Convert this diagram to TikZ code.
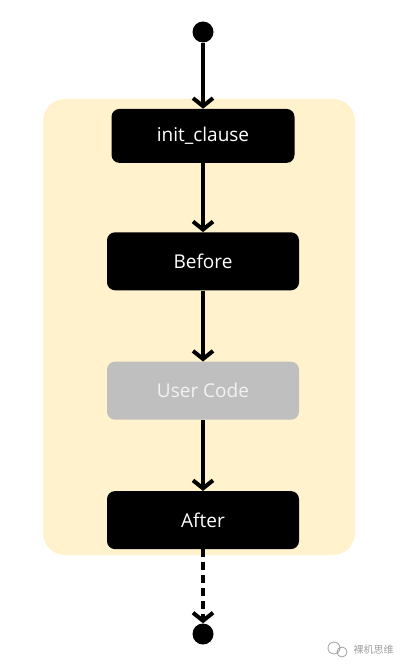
\documentclass[tikz,border=0pt]{standalone}
\usepackage{fontspec}
\setmainfont{Open Sans}
\newfontfamily\cjk{Noto Sans CJK SC}
\usetikzlibrary{arrows.meta, positioning, backgrounds}
\definecolor{PanelYellow}{HTML}{FFF2CC}
\definecolor{CodeGray}{HTML}{BFBFBF}
\definecolor{CodeText}{HTML}{F2F2F2}
\definecolor{MarkGray}{HTML}{A0A0A0}

\begin{document}
\begin{tikzpicture}[x=1pt,y=1pt,
			every node/.style={font=\fontsize{19}{23}\selectfont},
			phase/.style={rectangle,rounded corners=8pt,fill=black,text=white,minimum width=192pt,minimum height=58pt,inner sep=0pt},
			usercode/.style={phase,fill=CodeGray,text=CodeText},
			state/.style={circle,fill=black,minimum size=21pt,inner sep=0pt},
			flow/.style={line width=4pt,-{Straight Barb[length=8pt,width=20pt]}},
			panel/.style={rectangle,rounded corners=22pt,fill=PanelYellow,minimum width=312pt,minimum height=456pt,inner sep=0pt}
		]
		\useasboundingbox (0,0) rectangle (405,-668);
		\node (start) [state] at (203,-32) {};
		\node (init) [phase,minimum width=183pt,minimum height=54pt,below=66pt of start] {init\_clause};
		\node (before) [phase,below=69pt of init] {Before};
		\node (user) [usercode,below=71pt of before] {User Code};
		\node (after) [phase,below=71pt of user] {After};
		\node (stop) [state,below=74pt of after] {};
		\draw [flow] (start) -- (init);
		\draw [flow] (init) -- (before);
		\draw [flow] (before) -- (user);
		\draw [flow] (user) -- (after);
		\draw [flow,dash pattern=on 8pt off 5pt] (after) -- (stop);
		% watermark
		\draw [MarkGray,line width=0.8pt] (334,-648) circle (6) (342,-652) circle (5);
		\node (mark) [anchor=west,text=MarkGray,font=\cjk\fontsize{10}{12}\selectfont] at (350,-650) {裸机思维};
		\begin{scope}[on background layer]
			\node (env) [panel] at (199,-327) {};
		\end{scope}
	\end{tikzpicture}
\end{document}
